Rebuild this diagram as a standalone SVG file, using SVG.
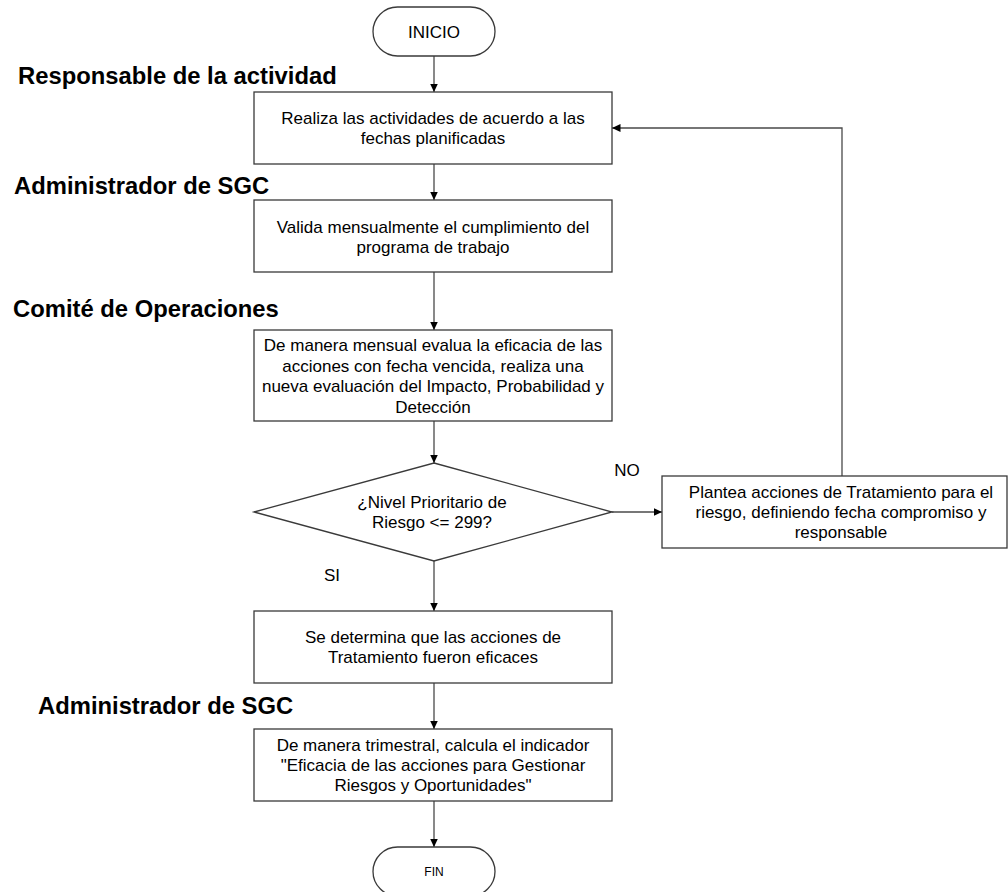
<svg xmlns="http://www.w3.org/2000/svg" width="1008" height="892" viewBox="0 0 1008 892">
<style>
.box{fill:#fff;stroke:#3a3a3a;stroke-width:1.3}
.t{font-family:"Liberation Sans",Arial,sans-serif;font-size:17px;fill:#000;text-anchor:middle}
.lbl{font-family:"Liberation Sans",Arial,sans-serif;font-size:23.8px;font-weight:bold;fill:#000}
.c{fill:none;stroke:#4a4a4a;stroke-width:1.3;marker-end:url(#ah)}
</style>
<defs>
<marker id="ah" markerUnits="userSpaceOnUse" markerWidth="9" markerHeight="8" refX="8.5" refY="4" orient="auto">
<path d="M0,0 L8.5,4 L0,8 z" fill="#000"/>
</marker>
</defs>
<rect width="1008" height="892" fill="#fff"/>
<g id="connectors">
<line class="c" x1="434" y1="56" x2="434" y2="92"/>
<line class="c" x1="434" y1="164" x2="434" y2="200"/>
<line class="c" x1="434" y1="272" x2="434" y2="330"/>
<line class="c" x1="434" y1="421" x2="434" y2="463"/>
<line class="c" x1="434" y1="561" x2="434" y2="611"/>
<line class="c" x1="434" y1="683" x2="434" y2="729"/>
<line class="c" x1="434" y1="801" x2="434" y2="847"/>
<line class="c" x1="612" y1="512" x2="662" y2="512"/>
<polyline class="c" points="842,476 842,128 612,128"/>
<text class="t" x="627" y="476">NO</text>
<text class="t" x="332" y="581">SI</text>
</g>
<g id="labels">
<text class="lbl" x="18" y="84">Responsable de la actividad</text>
<text class="lbl" x="14" y="194">Administrador de SGC</text>
<text class="lbl" x="13" y="317">Comité de Operaciones</text>
<text class="lbl" x="38" y="714">Administrador de SGC</text>
</g>
<g id="inicio">
<rect class="box" x="373" y="7" width="122" height="49" rx="24.5"/>
<text class="t" x="434" y="37.5">INICIO</text>
</g>
<g id="realiza">
<rect class="box" x="254" y="92" width="358" height="72"/>
<text class="t" x="433" y="124">Realiza las actividades de acuerdo a las</text>
<text class="t" x="433" y="144">fechas planificadas</text>
</g>
<g id="valida">
<rect class="box" x="254" y="200" width="358" height="72"/>
<text class="t" x="433" y="233">Valida mensualmente el cumplimiento del</text>
<text class="t" x="433" y="253">programa de trabajo</text>
</g>
<g id="evalua">
<rect class="box" x="254" y="330" width="358" height="91"/>
<text class="t" x="433" y="351">De manera mensual evalua la eficacia de las</text>
<text class="t" x="433" y="371.5">acciones con fecha vencida, realiza una</text>
<text class="t" x="433" y="392">nueva evaluación del Impacto, Probabilidad y</text>
<text class="t" x="433" y="412.5">Detección</text>
</g>
<g id="decision">
<polygon class="box" points="434,463 612,512 434,561 254,512"/>
<text class="t" x="432" y="508">¿Nivel Prioritario de</text>
<text class="t" x="432" y="528">Riesgo &lt;= 299?</text>
</g>
<g id="plantea">
<rect class="box" x="662" y="476" width="345" height="72"/>
<text class="t" x="841" y="498">Plantea acciones de Tratamiento para el</text>
<text class="t" x="841" y="518">riesgo, definiendo fecha compromiso y</text>
<text class="t" x="841" y="538">responsable</text>
</g>
<g id="determina">
<rect class="box" x="254" y="611" width="358" height="72"/>
<text class="t" x="433" y="643">Se determina que las acciones de</text>
<text class="t" x="433" y="663">Tratamiento fueron eficaces</text>
</g>
<g id="calcula">
<rect class="box" x="254" y="729" width="358" height="72"/>
<text class="t" x="433" y="751">De manera trimestral, calcula el indicador</text>
<text class="t" x="433" y="771">"Eficacia de las acciones para Gestionar</text>
<text class="t" x="433" y="791">Riesgos y Oportunidades"</text>
</g>
<g id="fin">
<rect class="box" x="373" y="847" width="122" height="49" rx="24.5"/>
<text class="t" x="434" y="876" style="font-size:12px">FIN</text>
</g>
</svg>
